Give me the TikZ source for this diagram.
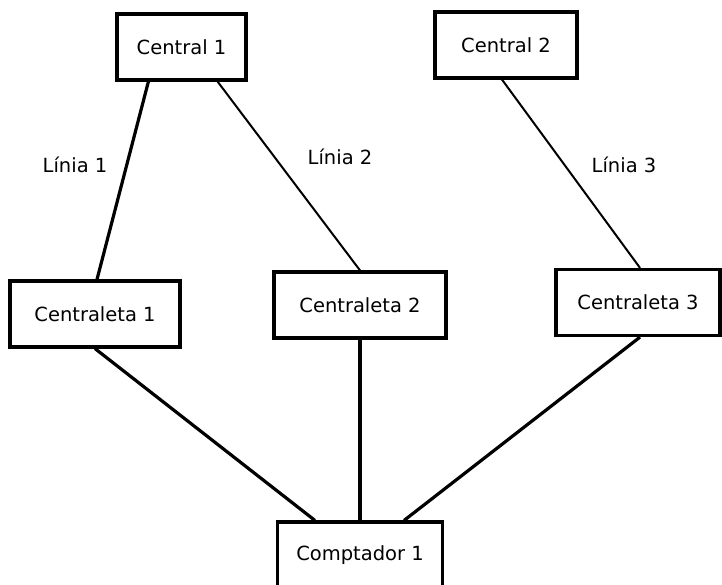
\documentclass[tikz,border=0pt]{standalone}
\usepackage{fontspec}
\setmainfont{DejaVu Sans}
\usetikzlibrary{calc}
\tikzstyle{station}=[rectangle,draw,line width=3.2pt,minimum height=66pt,inner sep=0pt,font=\fontsize{19.5}{22}\selectfont]
\tikzstyle{edge} = [draw,line width=3.2pt]
\tikzstyle{thinedge} = [draw,line width=2pt]
\tikzstyle{linelabel} = [font=\fontsize{19.5}{22}\selectfont]

\begin{document}
\begin{tikzpicture}[x=1pt,y=-1pt]
    \useasboundingbox (0,0) rectangle (722,585);

    \foreach \pos/\w/\name/\txt in {{(181.5,47)/129/c1/Central 1}, {(506,45)/142/c2/Central 2},
        {(95,314)/170/cl1/Centraleta 1}, {(360,305)/172/cl2/Centraleta 2},
        {(638,302.5)/164/cl3/Centraleta 3}, {(360,555)/165/cp/Comptador 1}}
        \node[station,minimum width=\w pt] (\name) at \pos {\txt};

    % lines from the centrals
    \path[edge] ([xshift=33pt]c1.south west) -- ([xshift=2pt]cl1.north);
    \path[thinedge] ([xshift=-30pt]c1.south east) -- (cl2.north);
    \path[thinedge] ([xshift=-4pt]c2.south) -- ([xshift=2pt]cl3.north);

    % centraletes to the counter
    \path[edge] (cl1.south) -- ([xshift=39pt]cp.north west);
    \path[edge] (cl2.south) -- (cp.north);
    \path[edge] ([xshift=2pt]cl3.south) -- ([xshift=-40pt]cp.north east);

    \node[linelabel] (l1) at (75,165) {Línia 1};
    \node[linelabel] (l2) at (340,157) {Línia 2};
    \node[linelabel] (l3) at (624,165) {Línia 3};
\end{tikzpicture}
\end{document}
